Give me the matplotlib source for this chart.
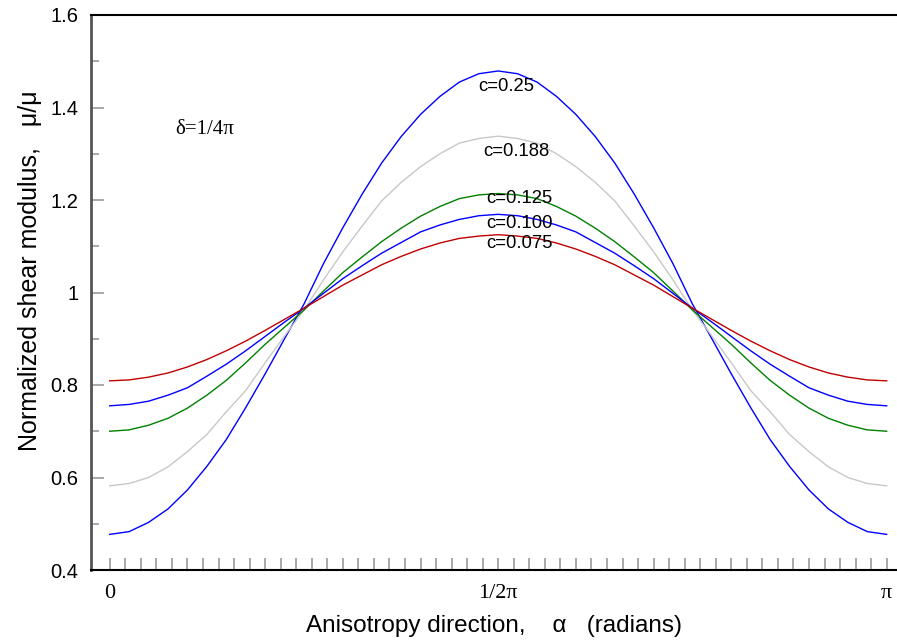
import numpy as np
import matplotlib
matplotlib.use("Agg")
import matplotlib.pyplot as plt
from matplotlib.ticker import FixedLocator, MultipleLocator, FuncFormatter

# alpha in units of pi
alpha_frac = [0.000, 0.025, 0.050, 0.075, 0.100, 0.125, 0.150, 0.175, 0.200, 0.225,
              0.250, 0.275, 0.300, 0.325, 0.350, 0.375, 0.400, 0.425, 0.450, 0.475,
              0.500,
              0.525, 0.550, 0.575, 0.600, 0.625, 0.650, 0.675, 0.700, 0.725, 0.750,
              0.775, 0.800, 0.825, 0.850, 0.875, 0.900, 0.925, 0.950, 0.975, 1.000]

mu_c0250 = [0.477, 0.483, 0.503, 0.532, 0.573, 0.624, 0.682, 0.751, 0.824, 0.900,
            0.975, 1.062, 1.140, 1.213, 1.280, 1.337, 1.385, 1.424, 1.455, 1.473,
            1.479,
            1.473, 1.455, 1.424, 1.385, 1.337, 1.280, 1.213, 1.140, 1.062, 0.975,
            0.900, 0.824, 0.751, 0.682, 0.624, 0.573, 0.532, 0.503, 0.483, 0.477]
mu_c0188 = [0.582, 0.587, 0.600, 0.623, 0.656, 0.693, 0.742, 0.788, 0.848, 0.906,
            0.962, 1.027, 1.088, 1.144, 1.198, 1.238, 1.272, 1.300, 1.323, 1.333,
            1.338,
            1.333, 1.323, 1.300, 1.272, 1.238, 1.198, 1.144, 1.088, 1.027, 0.962,
            0.906, 0.848, 0.788, 0.742, 0.693, 0.656, 0.623, 0.600, 0.587, 0.582]
mu_c0125 = [0.700, 0.703, 0.713, 0.728, 0.750, 0.778, 0.810, 0.848, 0.888, 0.925,
            0.962, 1.003, 1.043, 1.077, 1.110, 1.139, 1.165, 1.186, 1.203, 1.211,
            1.214,
            1.211, 1.203, 1.186, 1.165, 1.139, 1.110, 1.077, 1.043, 1.003, 0.962,
            0.925, 0.888, 0.848, 0.810, 0.778, 0.750, 0.728, 0.713, 0.703, 0.700]
mu_c0100 = [0.755, 0.758, 0.765, 0.778, 0.794, 0.819, 0.845, 0.874, 0.905, 0.936,
            0.966, 0.998, 1.030, 1.058, 1.085, 1.108, 1.131, 1.146, 1.158, 1.166,
            1.169,
            1.166, 1.158, 1.146, 1.131, 1.108, 1.085, 1.058, 1.030, 0.998, 0.966,
            0.936, 0.905, 0.874, 0.845, 0.819, 0.794, 0.778, 0.765, 0.758, 0.755]
mu_c0075 = [0.809, 0.811, 0.817, 0.826, 0.839, 0.855, 0.874, 0.895, 0.918, 0.942,
            0.966, 0.991, 1.016, 1.038, 1.060, 1.078, 1.094, 1.107, 1.117, 1.122,
            1.125,
            1.122, 1.117, 1.107, 1.094, 1.078, 1.060, 1.038, 1.016, 0.991, 0.966,
            0.942, 0.918, 0.895, 0.874, 0.855, 0.839, 0.826, 0.817, 0.811, 0.809]

series = [
    ("c=0.25", mu_c0250, "#0000FF"),
    ("c=0.188", mu_c0188, "#C8C8C8"),
    ("c=0.125", mu_c0125, "#008000"),
    ("c=0.100", mu_c0100, "#0000FF"),
    ("c=0.075", mu_c0075, "#C00000"),
]
label_pos = [(0.510, 1.446), (0.523, 1.305), (0.527, 1.204), (0.527, 1.150), (0.527, 1.107)]

xtick_vals = [0.0, 0.5, 1.0]
xtick_labels = ["0", "1/2\u03c0", "\u03c0"]

fig = plt.figure(figsize=(8.97, 6.40), dpi=100)
ax = fig.add_axes([91/897, 70/640, 806/897, 555/640])

x = np.array(alpha_frac) * np.pi
for name, vals, col in series:
    ax.plot(x, vals, color=col, lw=1.0)

for (name, vals, col), (lx, ly) in zip(series, label_pos):
    ax.text(lx * np.pi, ly, name, fontsize=13.3, family="Liberation Sans",
            ha="center", va="center", color="black")

ax.text(0.1227 * np.pi, 1.353, "\u03b4=1/4\u03c0", fontsize=15, family="Liberation Serif",
        ha="center", va="center")

ax.set_xlim(-0.0241 * np.pi, (897 - 109.7) / 777 * np.pi)
ax.set_ylim(0.4, 1.6)

ax.xaxis.set_major_locator(FixedLocator([v * np.pi for v in xtick_vals]))
ax.set_xticklabels(xtick_labels, family="Liberation Serif", fontsize=16)
ax.xaxis.set_minor_locator(FixedLocator([k * np.pi / 50 for k in range(51)]))
ax.yaxis.set_major_locator(MultipleLocator(0.2))
ax.yaxis.set_minor_locator(MultipleLocator(0.1))
ax.yaxis.set_major_formatter(FuncFormatter(lambda v, p: "%g" % round(v, 1)))

ax.tick_params(axis="x", which="both", direction="in", length=9, width=1.2,
               color="#999999", pad=10, top=False)
ax.tick_params(axis="y", which="major", direction="in", length=9, width=1.2,
               color="#999999", pad=9, labelsize=14.5)
ax.tick_params(axis="y", which="minor", direction="in", length=6, width=1.2,
               color="#999999")
for lab in ax.get_yticklabels():
    lab.set_fontfamily("Liberation Sans")

ax.spines["right"].set_visible(False)
ax.spines["left"].set_color("#555555")
ax.spines["left"].set_linewidth(2)
ax.spines["bottom"].set_linewidth(1.5)
ax.spines["top"].set_linewidth(1.5)

ax.set_xlabel("Anisotropy direction,    \u03b1   (radians)", fontsize=17.5,
              family="Liberation Sans", labelpad=9)
ax.set_ylabel("Normalized shear modulus,   \u03bc/\u03bc", fontsize=18,
              family="Liberation Sans", labelpad=4)
ax.yaxis.set_label_coords(-49/806, 0.54)

fig.savefig("out.png", dpi=100)
